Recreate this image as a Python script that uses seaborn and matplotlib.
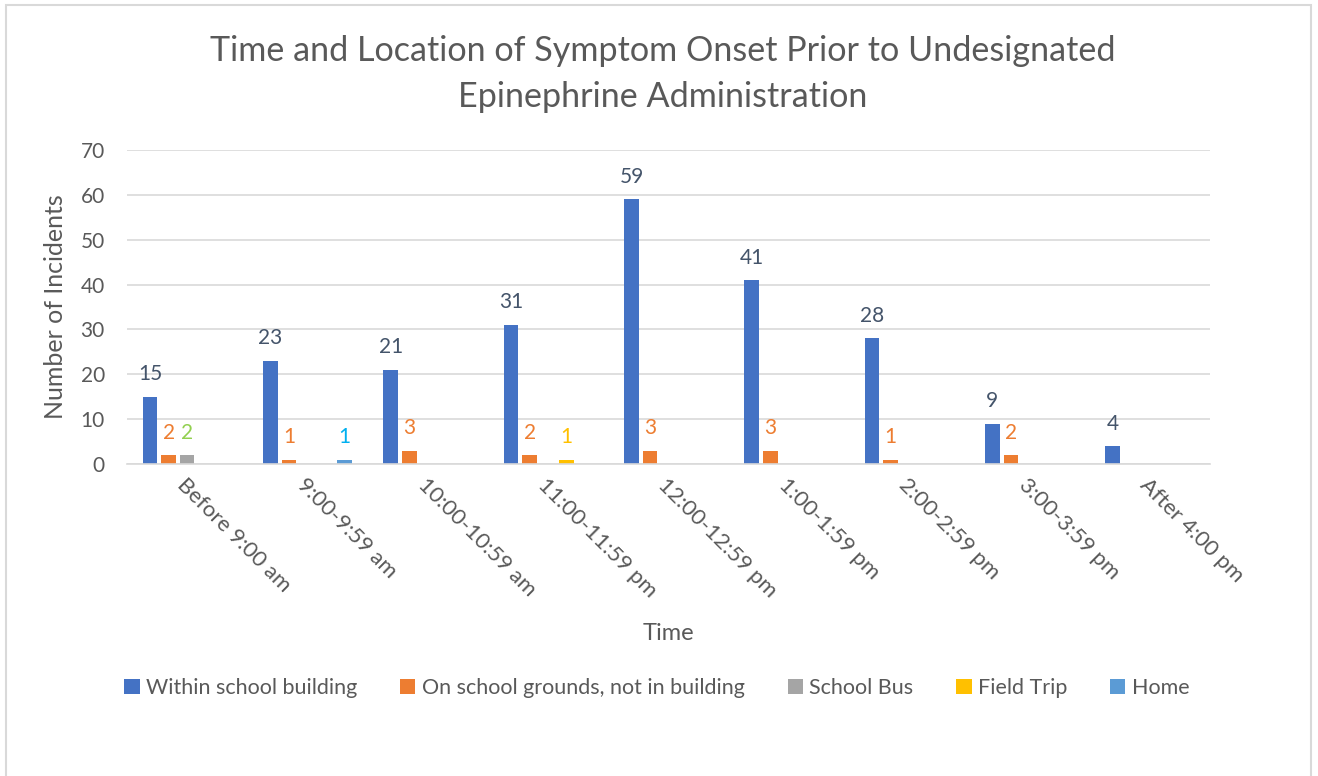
import pandas as pd
import numpy as np
import matplotlib
matplotlib.use('Agg')
import matplotlib.pyplot as plt
import seaborn as sns
from matplotlib.patches import Rectangle

# data
times = ['Before 9:00 am', '9:00-9:59 am', '10:00-10:59 am', '11:00-11:59 pm',
         '12:00-12:59 pm', '1:00-1:59 pm', '2:00-2:59 pm', '3:00-3:59 pm', 'After 4:00 pm']
locations = ['Within school building', 'On school grounds, not in building',
             'School Bus', 'Field Trip', 'Home']
within_building = [15, 23, 21, 31, 59, 41, 28, 9, 4]
school_grounds = [2, 1, 3, 2, 3, 3, 1, 2, 0]
school_bus = [2, 0, 0, 0, 0, 0, 0, 0, 0]
field_trip = [0, 0, 0, 1, 0, 0, 0, 0, 0]
home = [0, 1, 0, 0, 0, 0, 0, 0, 0]

bar_colors = ['#4472C4', '#ED7D31', '#A5A5A5', '#FFC000', '#5B9BD5']
label_colors = ['#44546A', '#ED7D31', '#92D050', '#FFC000', '#00B0F0']

series = [within_building, school_grounds, school_bus, field_trip, home]
rows = []
for loc, vals in zip(locations, series):
    for t, v in zip(times, vals):
        rows.append({'Time': t, 'Location': loc, 'Count': v})
df = pd.DataFrame(rows)

sns.set_style('white')
plt.rcParams['font.family'] = ['Lato', 'DejaVu Sans']
text_grey = '#595959'

fig = plt.figure(figsize=(13.18, 7.76), dpi=100)
ax = fig.add_axes([127 / 1318, 1 - 464 / 776, (1210 - 127) / 1318, (464 - 150) / 776])

sns.barplot(data=df, x='Time', y='Count', hue='Location', order=times,
            hue_order=locations, palette=bar_colors, width=0.77, gap=0.21,
            saturation=1, linewidth=0, ax=ax, legend=True)

# data labels, only where there is a value
for cont, vals, col in zip(ax.containers, series, label_colors):
    labels = [str(v) if v else '' for v in vals]
    ax.bar_label(cont, labels=labels, padding=9, color=col, fontsize=15)

ax.set_ylim(0, 70)
ax.set_xlim(-0.5, len(times) - 0.5)
ax.set_yticks(range(0, 71, 10))
ax.yaxis.grid(True, color='#D9D9D9', linewidth=1.2)
ax.set_axisbelow(True)
for s in ['top', 'right', 'left']:
    ax.spines[s].set_visible(False)
ax.spines['bottom'].set_color('#D9D9D9')
ax.spines['bottom'].set_linewidth(1.2)
ax.tick_params(axis='y', length=0, pad=16, labelsize=15, labelcolor=text_grey)
ax.tick_params(axis='x', length=0, pad=8, labelsize=16, labelcolor=text_grey)
plt.setp(ax.get_xticklabels(), rotation=-45, ha='left', va='top', rotation_mode='anchor')

ax.set_xlabel('Time', fontsize=17, color=text_grey)
ax.xaxis.set_label_coords(0.5, 1 - (623 - 150) / (464 - 150))
ax.set_ylabel('Number of Incidents', fontsize=18, color=text_grey)
ax.yaxis.set_label_coords(-(127 - 67) / (1210 - 127), 0.5)

fig.suptitle('Time and Location of Symptom Onset Prior to Undesignated\nEpinephrine Administration',
             x=663 / 1318, y=1 - 35 / 776, fontsize=24.6, color=text_grey, linespacing=1.55)

handles, labels = ax.get_legend_handles_labels()
ax.get_legend().remove()
fig.legend(handles, labels, loc='center', bbox_to_anchor=(657 / 1318, 1 - 688 / 776),
           ncol=5, frameon=False, fontsize=15.5, labelcolor=text_grey,
           handlelength=0.7, handleheight=0.7, handletextpad=0.3, columnspacing=2.0)

# outer chart border
fig.patches.append(Rectangle((6 / 1318, -0.02), (1311 - 6) / 1318, 1.02 - 5 / 776,
                             transform=fig.transFigure, fill=False,
                             edgecolor='#D9D9D9', linewidth=1.5))

fig.savefig('out.png', dpi=100)
